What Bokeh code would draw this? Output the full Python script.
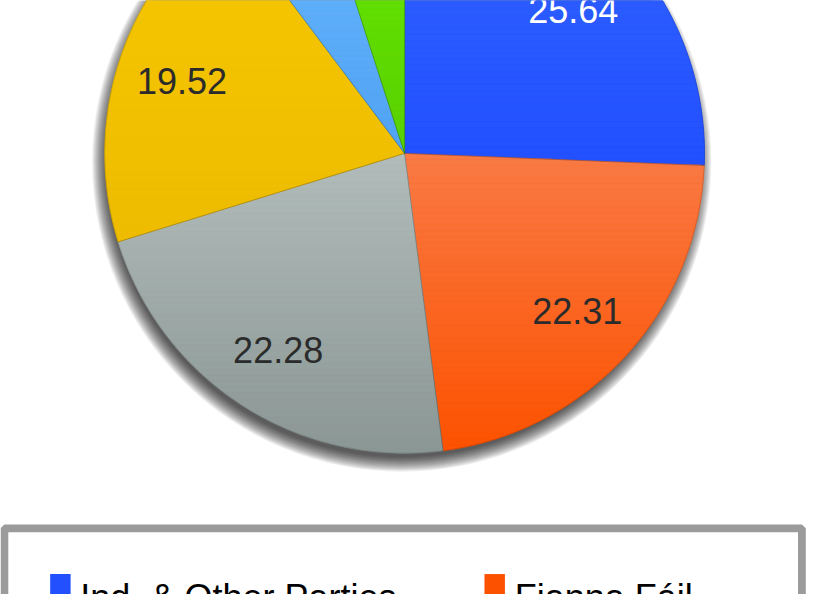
import math
from bokeh.plotting import figure
from bokeh.models import Range1d
from bokeh.core.properties import value
from bokeh.embed import file_html
from bokeh.resources import INLINE

# ---- data ----
categories = ["Ind. & Other Parties", "Fianna Fáil", "Fine Gael", "Sinn Féin", "Labour", "Green Party"]
shares = [25.64, 22.31, 22.28, 19.52, 5.26, 4.99]
colors_top = ["#3366ff", "#f97a45", "#b2bdbb", "#f6c700", "#6ab8ff", "#6cec00"]
colors_bottom = ["#2250ff", "#fc5200", "#8b9795", "#eebc00", "#50a3f3", "#58d000"]
label_colors = ["#ffffff", "#2b2b2b", "#2b2b2b", "#2b2b2b", "#2b2b2b", "#2b2b2b"]

# ---- layout: data units = reference pixels (y negated), uniform scale ----
W, H = 813, 594
REF_H = 610
S = H / REF_H                      # pixels per data unit
XMAX = W / S
CX, CY, R = 415, -157, 308
LABEL_R = 0.78 * R
LABEL_TOP_LIMIT = -10              # labels just above the crop are pulled down to this
FONT = "Liberation Sans"
FS = "%dpx" % round(37 * S)

p = figure(width=W, height=H, x_range=Range1d(0, XMAX), y_range=Range1d(-REF_H, 0),
           output_backend="svg", toolbar_location=None, min_border=0)
p.axis.visible = False
p.grid.visible = False
p.outline_line_color = None
p.background_fill_color = "#ffffff"
p.border_fill_color = "#ffffff"

# ---- shadow ----
sh_r = [R - 5 + k for k in range(16)]
p.circle(x=[CX - 3] * len(sh_r), y=[CY - 9] * len(sh_r), radius=sh_r,
         fill_color="#000000", fill_alpha=0.06, line_color=None)


def hex2rgb(h):
    h = h.lstrip("#")
    return tuple(int(h[i:i + 2], 16) for i in (0, 2, 4))


def mix(c1, c2, t):
    a, b = hex2rgb(c1), hex2rgb(c2)
    return "#%02x%02x%02x" % tuple(int(round(a[i] + (b[i] - a[i]) * t)) for i in range(3))


def clip(poly, y0, keep_above):
    out = []
    n = len(poly)
    for i in range(n):
        (x1, y1), (x2, y2) = poly[i], poly[(i + 1) % n]
        in1 = (y1 >= y0) if keep_above else (y1 <= y0)
        in2 = (y2 >= y0) if keep_above else (y2 <= y0)
        if in1:
            out.append((x1, y1))
        if in1 != in2:
            t = (y0 - y1) / (y2 - y1)
            out.append((x1 + t * (x2 - x1), y0))
    return out


total = sum(shares)
cum = 0.0
band_xs, band_ys, band_cols = [], [], []
starts, ends = [], []
lx, ly = [], []
for i, v in enumerate(shares):
    f0, f1 = cum / total, (cum + v) / total
    cum += v
    a0 = math.pi / 2 - 2 * math.pi * f0
    a1 = math.pi / 2 - 2 * math.pi * f1
    starts.append(a1)
    ends.append(a0)
    n = 120
    poly = [(CX, CY)] + [(CX + R * math.cos(a0 + (a1 - a0) * k / n),
                          CY + R * math.sin(a0 + (a1 - a0) * k / n)) for k in range(n + 1)]
    ytop = max(pt[1] for pt in poly)
    ybot = min(pt[1] for pt in poly)
    nb = 50
    for b in range(nb):
        yh = ytop - (ytop - ybot) * b / nb
        yl = ytop - (ytop - ybot) * (b + 1) / nb
        pg = clip(clip(poly, yl, True), yh, False)
        if len(pg) >= 3:
            band_xs.append([q[0] for q in pg])
            band_ys.append([q[1] for q in pg])
            band_cols.append(mix(colors_top[i], colors_bottom[i], (b + 0.5) / nb))
    am = (a0 + a1) / 2
    lx.append(CX + LABEL_R * math.cos(am))
    y_l = CY + LABEL_R * math.sin(am)
    if LABEL_TOP_LIMIT < y_l < 25:
        y_l = LABEL_TOP_LIMIT
    ly.append(y_l)

# base wedges
p.wedge(x=CX, y=CY, radius=R, start_angle=starts, end_angle=ends,
        fill_color=colors_bottom, line_color=None)
# gradient bands
p.patches(xs=band_xs, ys=band_ys, fill_color=band_cols, line_color=band_cols, line_width=0.6)
# thin slice borders
p.wedge(x=CX, y=CY, radius=R, start_angle=starts, end_angle=ends,
        fill_alpha=0, line_color="#000000", line_alpha=0.12, line_width=1)

# value labels
p.text(x=lx, y=ly, text=["%.2f" % v for v in shares], text_align="center",
       text_baseline="middle", text_font=value(FONT), text_font_size=FS,
       text_color=label_colors)

# ---- legend box ----
p.quad(left=[4], right=[823], top=[-542], bottom=[-760], fill_color="#ffffff",
       line_color="#9b9b9b", line_width=8 * S)
LEG_X0, LEG_DX, LEG_Y0, LEG_DY, SQ = 51, 446, 589, 56, 21
sq_l, sq_r, sq_t, sq_b, tx, ty = [], [], [], [], [], []
for i, c in enumerate(categories):
    col, row = i % 2, i // 2
    x0 = LEG_X0 + col * LEG_DX
    y0 = LEG_Y0 + row * LEG_DY
    sq_l.append(x0)
    sq_r.append(x0 + SQ)
    sq_t.append(-y0)
    sq_b.append(-(y0 + SQ))
    tx.append(x0 + 31)
    ty.append(-(y0 + 24))
p.quad(left=sq_l, right=sq_r, top=sq_t, bottom=sq_b, fill_color=colors_bottom, line_color=None)
p.text(x=tx, y=ty, text=categories, text_align="left", text_baseline="alphabetic",
       text_font=value(FONT), text_font_size=FS, text_color="#000000")

open("out.html", "w").write(file_html(p, INLINE))
